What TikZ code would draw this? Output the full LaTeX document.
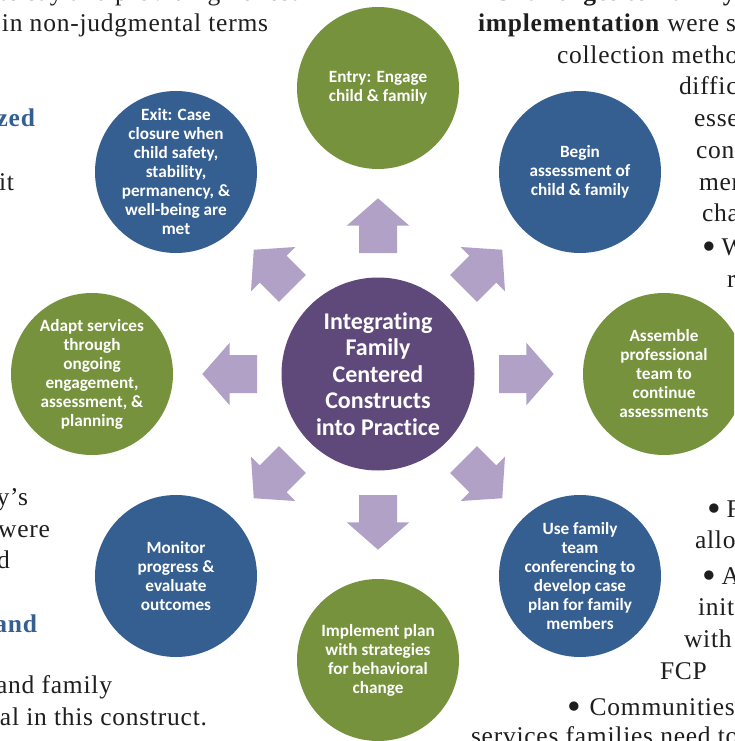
\documentclass[tikz,border=0pt]{standalone}
\usepackage{fontspec}
\setmainfont[LetterSpace=3,Ligatures=NoCommon]{Liberation Serif}
\newfontfamily\carlitofont[Ligatures=NoCommon]{Carlito}
\definecolor{cgreen}{HTML}{76923C}
\definecolor{cblue}{HTML}{365F91}
\definecolor{cpurple}{HTML}{5F497A}
\definecolor{carrow}{HTML}{B2A1C7}
\definecolor{ctext}{HTML}{1E1E1E}
\newcommand{\bigdot}{\raisebox{-4.5pt}{\fontsize{39}{39}\selectfont •}}
\tikzset{
  ring/.style={circle,minimum size=162pt,inner sep=-30pt,align=center,text=white,
    font=\carlitofont\bfseries\fontsize{17.2}{19}\selectfont},
  greenring/.style={ring,fill=cgreen},
  bluering/.style={ring,fill=cblue},
  hub/.style={circle,minimum size=193pt,inner sep=-30pt,align=center,text=white,fill=cpurple,
    font=\carlitofont\bfseries\fontsize{24}{26.4}\selectfont},
  blockarrow/.style={fill=carrow,draw=none},
  txtw/.style={anchor=base west,inner sep=0pt,outer sep=0pt,text=ctext,font=\fontsize{25.5}{30}\selectfont},
  txte/.style={anchor=base east,inner sep=0pt,outer sep=0pt,text=ctext,font=\fontsize{25.5}{30}\selectfont},
  headblue/.style={text=cblue,font=\bfseries\fontsize{25.5}{30}\selectfont},
}
\newcommand{\blockarrowat}[1]{%
  \fill[blockarrow,shift={(hubc)},rotate=#1]
    (121,-19)--(148.3,-19)--(148.3,-31.3)--(175.7,0)--(148.3,31.3)--(148.3,19)--(121,19)--cycle;}
\begin{document}
\begin{tikzpicture}[x=1pt,y=-1pt]
\useasboundingbox (0,0) rectangle (734,741);
\clip (0,0) rectangle (734,741);
\fill[white] (0,0) rectangle (734,741);
% surrounding page text, left column
\node[txte] (l1) at (298,1) {to say and providing honest};
\node[txte] (l2) at (268,32) {in non-judgmental terms};
\node[txte,headblue] (l3) at (35,127) {zed};
\node[txte] (l4) at (14,190) {it};
\node[txte] (l5) at (28,505) {y’s};
\node[txte] (l6) at (50,537) {were};
\node[txte] (l7) at (10,568) {d};
\node[txte,headblue] (l8) at (37,632) {and};
\node[txte] (l9) at (112,693) {and family};
\node[txte] (l10) at (207,725) {ral in this construct.};
% surrounding page text, right column
\node[txtw,font=\bfseries\fontsize{25.5}{30}\selectfont] (r1) at (493,1) {Challenges to Family};
\node[txtw] (r2) at (478,32) {\textbf{implementation} were s};
\node[txtw] (r3) at (557,64) {collection metho};
\node[txtw] (r4) at (679,95) {diffic};
\node[txtw] (r5) at (694,127) {esse};
\node[txtw] (r6) at (696,158) {con};
\node[txtw] (r7) at (699,190) {mer};
\node[txtw] (r8) at (702,221) {cha};
\node[txtw] (r9) at (702,255) {\bigdot\hspace{6pt}W};
\node[txtw] (r10) at (727,287) {r};
\node[txtw] (r11) at (707,517) {\bigdot\hspace{6pt}F};
\node[txtw] (r12) at (695,548) {allo};
\node[txtw] (r13) at (702,584) {\bigdot\hspace{6pt}A};
\node[txtw] (r14) at (698,615) {init};
\node[txtw] (r15) at (684,647) {with};
\node[txtw] (r16) at (660,679) {FCP};
\node[txtw] (r17) at (567,715) {\bigdot\hspace{9pt}Communities};
\node[txtw] (r18) at (471,744) {services families need to};
% diagram
\coordinate (hubc) at (378,374);
\node[hub] (hub) at (hubc) {Integrating\\Family\\Centered\\Constructs\\into Practice};
\node[greenring] (n1) at (378,88) {Entry: Engage\\child \& family};
\node[bluering] (n2) at (580,172) {Begin\\assessment of\\child \& family};
\node[greenring] (n3) at (664,374) {Assemble\\professional\\team to\\continue\\assessments};
\node[bluering] (n4) at (580,576) {Use family\\team\\conferencing to\\develop case\\plan for family\\members};
\node[greenring] (n5) at (378,660) {Implement plan\\with strategies\\for behavioral\\change};
\node[bluering] (n6) at (176,576) {Monitor\\progress \&\\evaluate\\outcomes};
\node[greenring] (n7) at (92,374) {Adapt services\\through\\ongoing\\engagement,\\assessment, \&\\planning};
\node[bluering] (n8) at (176,172) {Exit: Case\\closure when\\child safety,\\stability,\\permanency, \&\\well-being are\\met};
\blockarrowat{0}
\blockarrowat{45}
\blockarrowat{90}
\blockarrowat{135}
\blockarrowat{180}
\blockarrowat{225}
\blockarrowat{270}
\blockarrowat{315}
\end{tikzpicture}
\end{document}
